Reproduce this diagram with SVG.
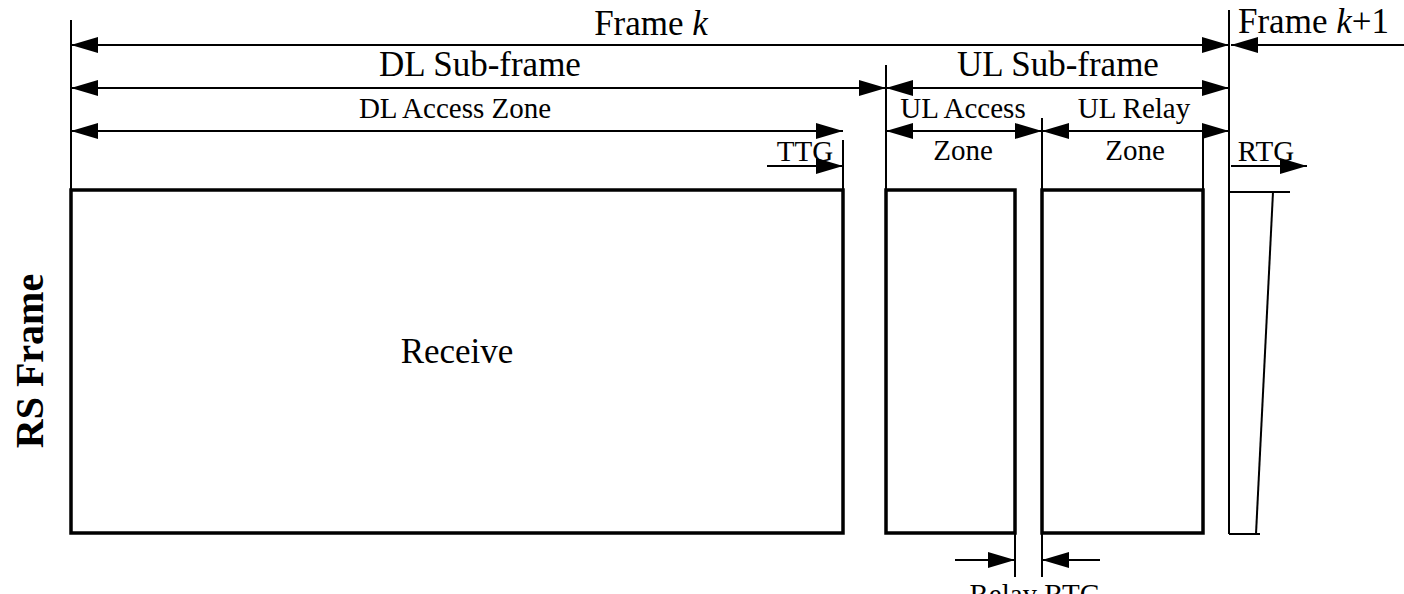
<svg xmlns="http://www.w3.org/2000/svg" width="1404" height="594" viewBox="0 0 1404 594">
<style>
text{font-family:"Liberation Serif","Times New Roman",serif;fill:#000}
.t{font-size:35px}
.z{font-size:29px}
.ln{stroke:#000;stroke-width:2;fill:none}
.bx{stroke:#000;stroke-width:3.5;fill:#fff}
.da{stroke:#000;stroke-width:2;fill:none;marker-start:url(#ah);marker-end:url(#ah)}
.sa{stroke:#000;stroke-width:2;fill:none;marker-end:url(#ah)}
</style>
<defs>
<marker id="ah" markerUnits="userSpaceOnUse" viewBox="0 0 27 16" markerWidth="27" markerHeight="16" refX="27" refY="8" orient="auto-start-reverse">
<path d="M0,0 L27,8 L0,16 z" fill="#000"/>
</marker>
</defs>
<rect width="1404" height="594" fill="#fff"/>
<g id="guides">
<line class="ln" x1="71" y1="20" x2="71" y2="190"/>
<line class="ln" x1="886" y1="65" x2="886" y2="190"/>
<line class="ln" x1="1042" y1="118" x2="1042" y2="577"/>
<line class="ln" x1="1015" y1="533" x2="1015" y2="577"/>
<line class="ln" x1="843" y1="140" x2="843" y2="190"/>
<line class="ln" x1="1203" y1="138" x2="1203" y2="190"/>
<line class="ln" x1="1229" y1="10" x2="1229" y2="534"/>
</g>
<g id="receive">
<rect class="bx" x="71" y="190" width="772" height="343"/>
<text x="457" y="363" font-size="35" text-anchor="middle">Receive</text>
</g>
<g id="ul-access">
<rect class="bx" x="886" y="190" width="129" height="343"/>
</g>
<g id="ul-relay">
<rect class="bx" x="1042" y="190" width="161" height="343"/>
</g>
<g id="rtg-shape">
<line class="ln" x1="1229" y1="192" x2="1290" y2="192"/>
<line class="ln" x1="1273" y1="192" x2="1256" y2="534"/>
<line class="ln" x1="1229" y1="534" x2="1260" y2="534"/>
</g>
<g id="connectors">
<line class="da" x1="71" y1="45" x2="1229" y2="45"/>
<line class="sa" x1="1404" y1="45" x2="1231" y2="45"/>
<line class="da" x1="71" y1="88" x2="886" y2="88"/>
<line class="da" x1="886" y1="88" x2="1229" y2="88"/>
<line class="da" x1="71" y1="131" x2="843" y2="131"/>
<line class="da" x1="886" y1="131" x2="1042" y2="131"/>
<line class="da" x1="1042" y1="131" x2="1229" y2="131"/>
<line class="sa" x1="767" y1="166" x2="843" y2="166"/>
<line class="sa" x1="1231" y1="166" x2="1307" y2="166"/>
<line class="sa" x1="955" y1="560" x2="1015" y2="560"/>
<line class="sa" x1="1100" y1="560" x2="1042" y2="560"/>
</g>
<g id="labels">
<text class="t" x="651" y="35" text-anchor="middle">Frame <tspan font-style="italic">k</tspan></text>
<text class="t" x="1238" y="33">Frame <tspan font-style="italic">k</tspan>+1</text>
<text class="t" x="480" y="76" text-anchor="middle">DL Sub-frame</text>
<text class="t" x="1058" y="76" text-anchor="middle">UL Sub-frame</text>
<text class="z" x="455" y="118" text-anchor="middle">DL Access Zone</text>
<text class="z" x="963" y="118" text-anchor="middle">UL Access</text>
<text class="z" x="963" y="160" text-anchor="middle">Zone</text>
<text class="z" x="1134" y="118" text-anchor="middle">UL Relay</text>
<text class="z" x="1135" y="160" text-anchor="middle">Zone</text>
<text class="z" x="805" y="161" text-anchor="middle">TTG</text>
<text class="z" x="1266" y="161" text-anchor="middle">RTG</text>
<text class="z" x="1035" y="604" text-anchor="middle">Relay RTG</text>
<text transform="translate(43,361) rotate(-90)" font-size="40" font-weight="bold" text-anchor="middle">RS Frame</text>
</g>
</svg>
